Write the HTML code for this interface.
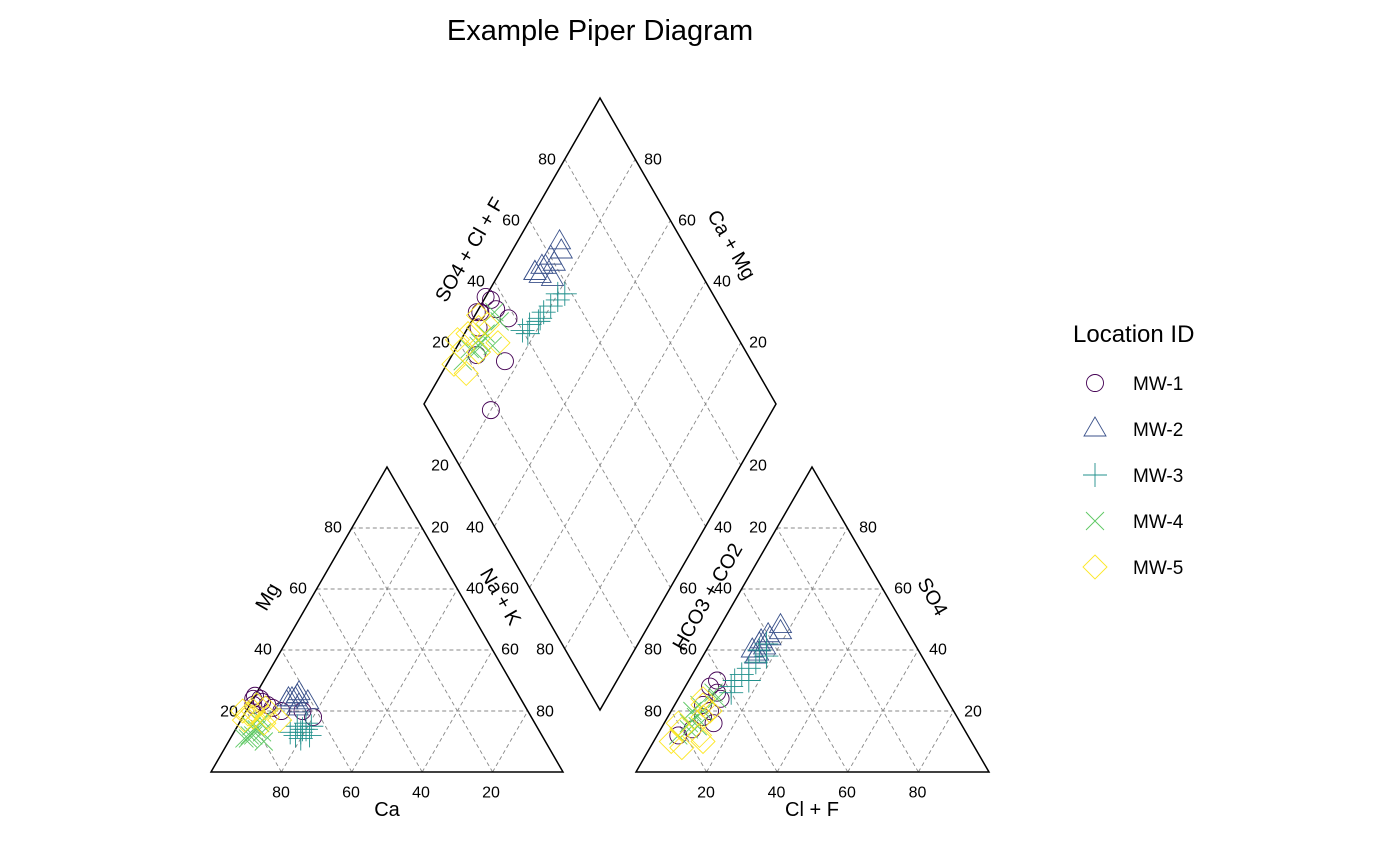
<!DOCTYPE html>
<html><head><meta charset="utf-8">
<style>
html,body{margin:0;padding:0;background:#fff;}
svg{display:block;font-family:"Liberation Sans",Arial,sans-serif;}
.tick{font-size:16px;fill:#000;}
.ttl{font-size:20px;fill:#000;}
</style></head>
<body>
<svg id="chart" width="1400" height="866" viewBox="0 0 1400 866" xmlns="http://www.w3.org/2000/svg">
<rect width="1400" height="866" fill="#fff"/>
<text x="600" y="40" text-anchor="middle" font-size="29">Example Piper Diagram</text>
<g id="grid"></g>
<g id="frames"></g>
<g id="labels"></g>
<g id="points"></g>
<g id="legend"></g>
</svg>
<script>
const locations = ["MW-1","MW-2","MW-3","MW-4","MW-5"];
const colors = ["#440154","#3B528B","#21908C","#5DC863","#FDE725"];
const shapes = ["circle","triangle","plus","cross","diamond"];
const caVals = [[76,74,75,73,72,62,64,77,70,74],[65,63,67,64,62,66,61,65,63,64],[68,66,70,64,67,69,65,71,66,68],[80,82,78,84,79,81,83,77,80,85],[78,80,76,79,82,74,77,81,75,72]];
const mgVals = [[24,23,25,22,21,18,20,22,20,24],[24,25,23,22,26,24,23,21,25,24],[13,14,12,15,14,11,16,13,12,15],[14,12,16,11,13,15,12,17,10,11],[20,19,22,18,17,21,16,20,18,17]];
const clVals = [[8,10,7,12,9,6,14,11,8,10],[14,15,13,16,17,15,14,18,16,15],[14,16,13,15,17,18,15,14,16,13],[8,7,10,6,9,8,11,7,9,6],[6,8,5,10,12,7,14,4,9,11]];
const so4Vals = [[22,18,28,24,14,12,16,20,30,26],[42,45,40,44,48,38,43,46,41,39],[32,36,28,40,30,38,34,26,42,30],[18,22,15,20,26,14,24,16,20,12],[14,22,10,18,12,24,10,16,8,20]];
const tickVals = [20,40,60,80];

const NS="http://www.w3.org/2000/svg";
function mk(tag,attrs,parent){const e=document.createElementNS(NS,tag);for(const k in attrs)e.setAttribute(k,attrs[k]);parent.appendChild(e);return e;}
const LT={L:[211,772],R:[563,772],T:[387,467]};
const RT={L:[636,772],R:[989,772],T:[812,467]};
const DM={L:[424,404],T:[600,98],R:[776,404],B:[600,710]};
function bary(tri,a,b,c){
  return [a*tri.L[0]+b*tri.T[0]+c*tri.R[0], a*tri.L[1]+b*tri.T[1]+c*tri.R[1]];}
function catPos(ca,mg){return bary(LT,ca/100,mg/100,(100-ca-mg)/100);}
function anPos(cl,so4){return bary(RT,(100-cl-so4)/100,so4/100,cl/100);}
function dmPos(ca,mg,cl,so4){const n=(100-ca-mg)/100,s=(cl+so4)/100;
  return [DM.L[0]+s*(DM.T[0]-DM.L[0])+n*(DM.B[0]-DM.L[0]), DM.L[1]+s*(DM.T[1]-DM.L[1])+n*(DM.B[1]-DM.L[1])];}
function lerp(p,q,t){return [p[0]+(q[0]-p[0])*t,p[1]+(q[1]-p[1])*t];}

const grid=document.getElementById('grid');
function gl(p,q){const l=mk('line',{x1:p[0],y1:p[1],x2:q[0],y2:q[1],stroke:'#888','stroke-width':0.9,'stroke-dasharray':'4,3'},grid);
  
  }
[LT,RT].forEach(t=>{tickVals.forEach(v=>{const f=v/100;
  gl(lerp(t.L,t.T,f),lerp(t.R,t.T,f));
  gl(lerp(t.L,t.R,f),lerp(t.R,t.T,1-f));
  gl(lerp(t.L,t.R,f),lerp(t.L,t.T,f));});});
tickVals.forEach(v=>{const f=v/100;
  gl(lerp(DM.L,DM.T,f),lerp(DM.B,DM.R,f));
  gl(lerp(DM.L,DM.B,f),lerp(DM.T,DM.R,f));});

const fr=document.getElementById('frames');
[[LT,'cation-triangle'],[RT,'anion-triangle']].forEach(([t,n])=>{const p=mk('polygon',{points:[t.L,t.T,t.R].map(a=>a.join(',')).join(' '),fill:'none',stroke:'#000','stroke-width':1.5},fr);
  
  });
const dp=mk('polygon',{points:[DM.L,DM.T,DM.R,DM.B].map(a=>a.join(',')).join(' '),fill:'none',stroke:'#000','stroke-width':1.5},fr);



const lab=document.getElementById('labels');
function tx(x,y,s,cls,rot,name){const t=mk('text',{x:x,y:y,'text-anchor':'middle','dominant-baseline':'central','class':cls},lab);
  if(rot)t.setAttribute('transform',`rotate(${rot} ${x} ${y})`);t.textContent=s;
  
  }
tickVals.forEach((v,i)=>{
  tx(281+70*i,793,String(80-20*i),'tick',0,'ca-tick');
  tx(706+70.5*i,793,String(20+20*i),'tick',0,'cl-tick');
  const yy=[712,650,589,528][i];
  tx([229,263,298,333][i],yy,String(v),'tick',0,'mg-tick');
  tx([545,510,475,440][i],yy,String(80-20*i),'tick',0,'nak-tick');
  tx([653,688,723,758][i],yy,String(80-20*i),'tick',0,'hco3-tick');
  tx([973,938,903,868][i],yy,String(v),'tick',0,'so4-tick');
  const dy=[650,589,528,466][i];
  tx([545,510,475,440][i],dy,String(80-20*i),'tick',0,'diamond-lower-left-tick');
  tx([653,688,723,758][i],dy,String(80-20*i),'tick',0,'diamond-lower-right-tick');
  const uy=[343,282,221,160][i];
  tx([441,476,511,547][i],uy,String(v),'tick',0,'diamond-upper-left-tick');
  tx([758,722,687,653][i],uy,String(v),'tick',0,'diamond-upper-right-tick');
});
tx(387,810,'Ca','ttl',0,'ca-axis-title');
tx(812,810,'Cl + F','ttl',0,'cl-axis-title');
tx(268,597,'Mg','ttl',-60,'mg-axis-title');
tx(500,597,'Na + K','ttl',60,'nak-axis-title');
tx(708,597,'HCO3 + CO2','ttl',-60,'hco3-axis-title');
tx(932,597,'SO4','ttl',60,'so4-axis-title');
tx(470,250,'SO4 + Cl + F','ttl',-60,'so4-cl-axis-title');
tx(731,245,'Ca + Mg','ttl',60,'ca-mg-axis-title');

function marker(parent,shape,x,y,col){let e;const a={fill:'none',stroke:col,'stroke-width':0.9};
  if(shape==='circle'){e=mk('circle',Object.assign({cx:x,cy:y,r:8.5},a),parent);}
  else if(shape==='triangle'){e=mk('polygon',Object.assign({points:`${x},${y-12} ${x-11},${y+7} ${x+11},${y+7}`},a),parent);}
  else if(shape==='plus'){e=mk('path',Object.assign({d:`M${x-12},${y}H${x+12}M${x},${y-12}V${y+12}`},a),parent);}
  else if(shape==='cross'){e=mk('path',Object.assign({d:`M${x-9},${y-9}L${x+9},${y+9}M${x-9},${y+9}L${x+9},${y-9}`},a),parent);}
  else {e=mk('polygon',Object.assign({points:`${x},${y-12} ${x+12},${y} ${x},${y+12} ${x-12},${y}`},a),parent);}
  return e;}
const pts=document.getElementById('points');
locations.forEach((loc,k)=>{
  caVals[k].forEach((ca,i)=>{const mg=mgVals[k][i],cl=clVals[k][i],so4=so4Vals[k][i];
    [catPos(ca,mg),anPos(cl,so4),dmPos(ca,mg,cl,so4)].forEach(p=>{
      const m=marker(pts,shapes[k],p[0],p[1],colors[k]);
      
      });});});

const lg=document.getElementById('legend');
const lt=mk('text',{x:1073,y:342,'font-size':24},lg);lt.textContent='Location ID';


locations.forEach((loc,k)=>{const y=383+46*k;
  const m=marker(lg,shapes[k],1095,y,colors[k]);
  
  
  const t=mk('text',{x:1133,y:y+7,'font-size':19},lg);t.textContent=loc;
  
  });
</script>
</body></html>
